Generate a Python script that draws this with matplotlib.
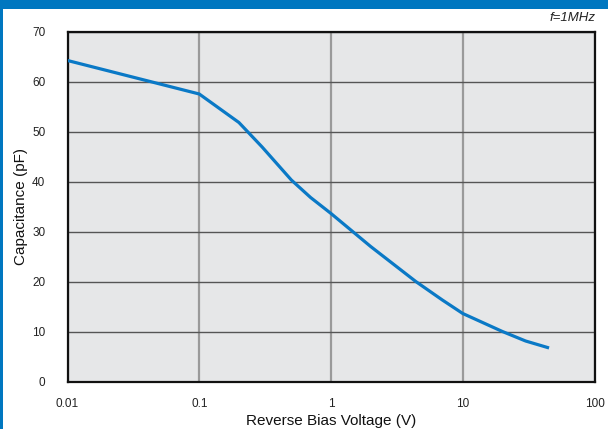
import matplotlib
matplotlib.use("Agg")
import matplotlib.pyplot as plt
from matplotlib.patches import Rectangle

voltage = [0.01, 0.1, 0.2, 0.3, 0.5, 0.7, 1.0, 2.0, 4.4, 7.0, 10.0, 20.0, 30.0, 44.0]
capacitance = [64.2, 57.5, 51.8, 46.9, 40.3, 36.8, 33.6, 27.0, 20.0, 16.3, 13.6, 10.0, 8.1, 6.8]
x_ticks = [0.01, 0.1, 1, 10, 100]
x_tick_labels = ["0.01", "0.1", "1", "10", "100"]
y_ticks = [0, 10, 20, 30, 40, 50, 60, 70]

plt.rcParams['font.family'] = ['Liberation Sans', 'DejaVu Sans']

W, H = 608, 429
fig = plt.figure(figsize=(W / 100, H / 100), dpi=100)
fig.patch.set_facecolor('white')

blue = '#0077C0'
# header band and left border
fig.add_artist(Rectangle((0, 1 - 8.5 / H), 1, 8.5 / H, transform=fig.transFigure,
                         facecolor=blue, edgecolor='none', zorder=0))
fig.add_artist(Rectangle((0, 0), 2.5 / W, 1, transform=fig.transFigure,
                         facecolor=blue, edgecolor='none', zorder=0))

left, right, top, bottom = 67.5, 594.5, 31.5, 381.5
ax = fig.add_axes([left / W, (H - bottom) / H, (right - left) / W, (bottom - top) / H])
ax.set_facecolor('#E6E7E8')
ax.set_xscale('log')
ax.set_xlim(0.01, 100)
ax.set_ylim(0, 70)

ax.plot(voltage, capacitance, color='#0A79C6', lw=2.3, solid_joinstyle='round', zorder=3)

ax.set_xticks(x_ticks)
ax.set_xticklabels(x_tick_labels)
ax.xaxis.set_minor_locator(matplotlib.ticker.NullLocator())
ax.set_yticks(y_ticks)
ax.tick_params(length=0, labelsize=8.5, colors='#222222')
ax.tick_params(axis='x', pad=12)
ax.tick_params(axis='y', pad=16)
ax.grid(True, axis='x', color='#9a9a9a', lw=1.6, zorder=1)
ax.grid(True, axis='y', color='#555555', lw=1.0, zorder=1)
ax.set_axisbelow(True)
for s in ax.spines.values():
    s.set_color('#111111')
    s.set_linewidth(1.6)

ax.set_xlabel('Reverse Bias Voltage (V)', fontsize=11, color='#111111', labelpad=3)
ax.set_ylabel('Capacitance (pF)', fontsize=11, color='#111111', labelpad=3)

fig.text(596 / W, 1 - 18 / H, 'f=1MHz', ha='right', va='center', fontsize=9.5, style='italic', color='#222222')

fig.savefig('out.png', dpi=100)
